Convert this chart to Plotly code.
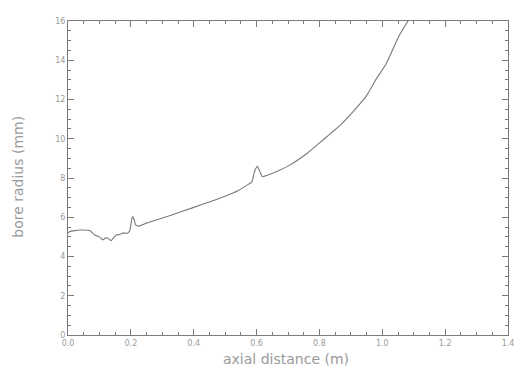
import plotly.graph_objects as go

# Bore profile: axial position (m) and bore radius (mm)
axial_m = [0.0, 0.006, 0.04, 0.069, 0.085, 0.1, 0.111, 0.12, 0.127, 0.137, 0.145, 0.153,
           0.165, 0.174, 0.189, 0.196, 0.2, 0.205, 0.21, 0.215, 0.226, 0.25, 0.283,
           0.362, 0.43, 0.498, 0.54, 0.571, 0.585, 0.592, 0.598, 0.603, 0.61, 0.618,
           0.622, 0.66, 0.707, 0.76, 0.812, 0.87, 0.917, 0.95, 0.979, 1.011, 1.052,
           1.084, 1.1]
radius_mm = [5.2, 5.27, 5.35, 5.32, 5.1, 5.0, 4.85, 4.95, 4.93, 4.81, 4.95, 5.1,
             5.12, 5.19, 5.19, 5.3, 5.6, 6.04, 5.9, 5.61, 5.55, 5.7, 5.87,
             6.29, 6.67, 7.06, 7.35, 7.65, 7.8, 8.25, 8.5, 8.59, 8.35, 8.08,
             8.08, 8.3, 8.67, 9.25, 9.95, 10.75, 11.56, 12.2, 13.0, 13.78, 15.2,
             16.07, 16.6]

x_ticks = [0.0, 0.2, 0.4, 0.6, 0.8, 1.0, 1.2, 1.4]
x_tick_text = ["0.0", "0.2", "0.4", "0.6", "0.8", "1.0", "1.2", "1.4"]
y_ticks = [0, 2, 4, 6, 8, 10, 12, 14, 16]
y_tick_text = ["0", "2", "4", "6", "8", "10", "12", "14", "16"]

ink = "#7a7a7a"
label_ink = "#9a9a9a"

fig = go.Figure()
fig.add_trace(go.Scatter(
    x=axial_m, y=radius_mm, mode="lines",
    line=dict(color=ink, width=1.1, shape="spline", smoothing=0.5),
    showlegend=False, cliponaxis=True,
))

axis_common = dict(
    showgrid=False, zeroline=False, showline=True, linecolor=ink, linewidth=1,
    mirror="ticks", ticks="inside", ticklen=6, tickwidth=1, tickcolor=ink,
    tickfont=dict(family="DejaVu Sans", size=8, color=label_ink),
)

fig.update_xaxes(
    range=[0, 1.4], tickvals=x_ticks, ticktext=x_tick_text,
    minor=dict(ticks="inside", ticklen=3, tickcolor=ink, dtick=0.05, showgrid=False),
    **axis_common,
)
fig.update_yaxes(
    range=[0, 16], tickvals=y_ticks, ticktext=y_tick_text,
    minor=dict(ticks="inside", ticklen=3, tickcolor=ink, dtick=0.5, showgrid=False),
    **axis_common,
)

fig.add_annotation(
    text="axial distance (m)", xref="paper", yref="paper", x=0.495, y=-0.076,
    xanchor="center", yanchor="middle", showarrow=False,
    font=dict(family="DejaVu Sans", size=14, color=label_ink),
)
fig.add_annotation(
    text="bore radius (mm)", xref="paper", yref="paper", x=-0.113, y=0.505,
    xanchor="center", yanchor="middle", textangle=-90, showarrow=False,
    font=dict(family="DejaVu Sans", size=14, color=label_ink),
)

fig.update_layout(
    width=523, height=372,
    margin=dict(l=68, r=9, t=21, b=37),
    paper_bgcolor="white", plot_bgcolor="white",
)

fig.write_html("out.html")
